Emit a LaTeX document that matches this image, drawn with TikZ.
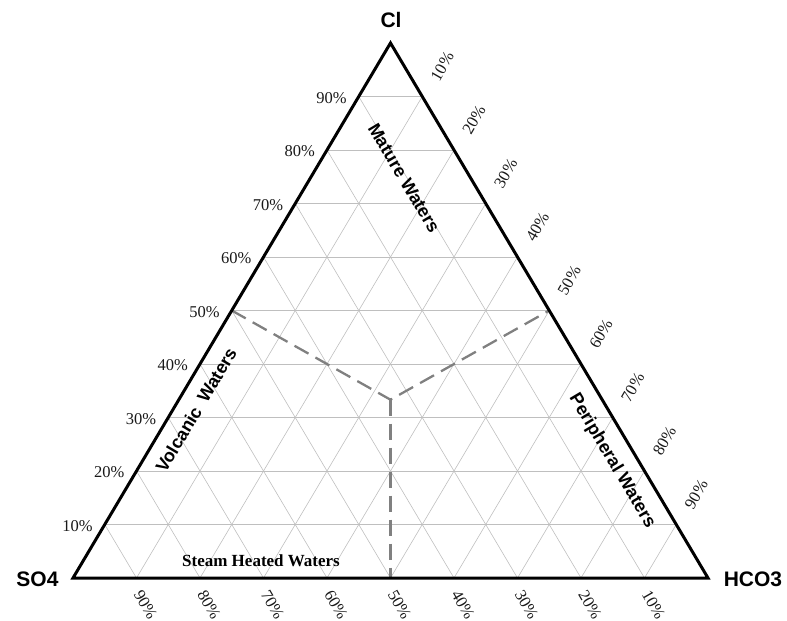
\documentclass[tikz,border=0pt]{standalone}
\usepackage{fontspec}
\setmainfont{Liberation Serif}
\setsansfont{Liberation Sans}
\usetikzlibrary{calc}
\begin{document}
\begin{tikzpicture}[x=1pt,y=-1pt,
  grid/.style={draw=black!25, line width=0.6pt},
  frame/.style={draw=black, line width=3pt, line join=miter},
  divider/.style={draw=black!50, line width=2.3pt, dash pattern=on 16pt off 8pt},
  pct/.style={inner sep=0pt, font=\fontsize{16.5}{18}\selectfont, text=black!90},
  vtx/.style={inner sep=0pt, font=\sffamily\bfseries\fontsize{21}{24}\selectfont},
  region/.style={inner sep=0pt, font=\sffamily\bfseries\fontsize{18}{20}\selectfont},
  steamlbl/.style={inner sep=0pt, font=\bfseries\fontsize{17}{19}\selectfont}]
\useasboundingbox (0,0) rectangle (787,621);
\coordinate (A) at (73,578);
\coordinate (B) at (708,578);
\coordinate (C) at (390.5,43);
% grid
\foreach \k [evaluate=\k as \t using \k/10, evaluate=\k as \u using 1-\k/10] in {1,...,9}{
  \draw[grid] ($(A)!\t!(C)$) -- ($(B)!\t!(C)$);
  \draw[grid] ($(A)!\t!(B)$) -- ($(B)!\u!(C)$);
  \draw[grid] ($(A)!\t!(B)$) -- ($(A)!\t!(C)$);
}
% dividers
\coordinate (G) at (390.5,399.7);
\coordinate (L50) at ($(A)!0.5!(C)$);
\coordinate (R50) at ($(B)!0.5!(C)$);
\coordinate (B50) at ($(A)!0.5!(B)$);
\draw[divider] (L50) -- (G) -- (R50);
\draw[divider] (G) -- (B50);
% frame
\draw[frame] (A) -- (B) -- (C) -- cycle;
% percentage labels
\foreach \k [evaluate=\k as \t using \k/10, evaluate=\k as \p using int(\k*10), evaluate=\k as \q using int(100-\k*10)] in {1,...,9}{
  \node[pct, anchor=east] (L\k) at ($(A)!\t!(C)+(-12,1.5)$) {\p\%};
  \node[pct, rotate=60] (R\k) at ($(C)!\t!(B)+(20,-30)$) {\p\%};
  \node[pct, rotate=-60] (S\k) at ($(A)!\t!(B)+(9,27)$) {\q\%};
}
% vertex labels
\node[vtx] (cl) at (391,20) {Cl};
\node[vtx] (so4) at (37.5,579.5) {SO4};
\node[vtx] (hco3) at (753,579.5) {HCO3};
% region labels
\node[region, rotate=-59.3] (mature) at (404,178) {Mature Waters};
\node[region, rotate=59.3] (volc) at (196,410) {Volcanic\hspace{0.5em}Waters};
\node[region, rotate=-59.3] (peri) at (612,461) {Peripheral Waters};
\node[steamlbl] (steam) at (261,561) {Steam Heated Waters};
\end{tikzpicture}
\end{document}
